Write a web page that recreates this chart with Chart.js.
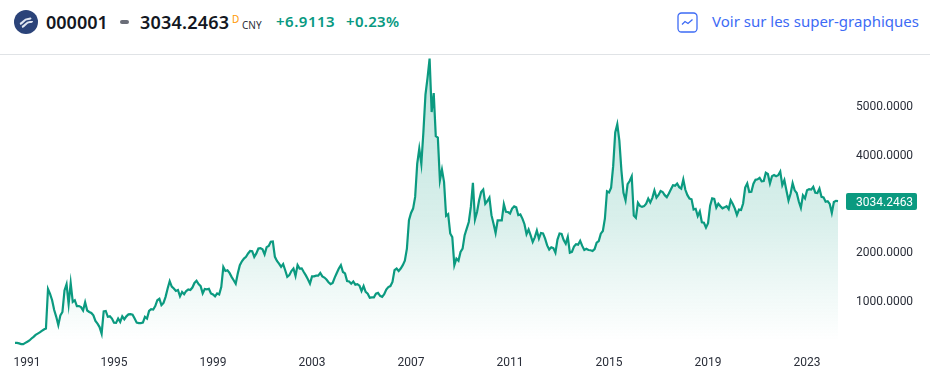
<!DOCTYPE html>
<html lang="fr">
<head>
<meta charset="utf-8">
<title>000001</title>
<script src="https://cdn.jsdelivr.net/npm/chart.js@4"></script>
<style>
    html, body { margin: 0; padding: 0; background: #fff; }
    body { width: 930px; height: 380px; position: relative; overflow: hidden; font-family: "Noto Sans", sans-serif; }
    .hd { position: absolute; white-space: nowrap; line-height: 1; }
    #rule { position: absolute; left: 0; top: 54px; width: 930px; height: 1px; background: #e0e3e6; }
    #wrap { position: absolute; left: 0; top: 55px; width: 930px; height: 325px; }
</style>
</head>
<body>
<svg class="hd" style="left:14px;top:10px" width="24" height="24" viewBox="0 0 24 24">
    <circle cx="12" cy="12" r="12" fill="#2b4379"/>
    <path d="M6 14c3-1 4-5 8-5 1 0 2 0 3-1M8 17c3-1 4-5 8-5 1 0 2 0 2-1" stroke="#dfe5f1" stroke-width="2" fill="none"/>
</svg>
<span class="hd" style="left:46px;top:13px;font-size:18px;font-weight:600;color:#131722">000001</span>
<span class="hd" style="left:120px;top:20px;width:9px;height:4px;background:#6a6d78;border-radius:2px"></span>
<span class="hd" style="left:140px;top:13px;font-size:18px;font-weight:600;letter-spacing:.2px;color:#131722">3034.2463</span>
<span class="hd" style="left:232px;top:14px;font-size:10px;color:#ff9800">D</span>
<span class="hd" style="left:242px;top:20px;font-size:10px;color:#2a2e39">CNY</span>
<span class="hd" style="left:276px;top:14px;font-size:15px;font-weight:600;letter-spacing:.5px;color:#089981">+6.9113</span>
<span class="hd" style="left:346px;top:14px;font-size:15px;font-weight:600;letter-spacing:.3px;color:#089981">+0.23%</span>
<svg class="hd" style="left:677px;top:12px" width="21" height="21" viewBox="0 0 21 21">
    <rect x="1" y="1" width="19" height="19" rx="3.5" fill="none" stroke="#3d6bf5" stroke-width="1.3"/>
    <path d="M5 12.5l3-3 3 2 4.5-4" fill="none" stroke="#3d6bf5" stroke-width="1.3"/>
</svg>
<span class="hd" style="left:712px;top:14px;font-size:15px;color:#3d6bf5">Voir sur les super-graphiques</span>
<div id="rule"></div>
<div id="wrap"><canvas id="priceChart" width="930" height="325"></canvas></div>

<script>
// clotures mensuelles, une ligne par annee (1991 -> avril 2024)
const closes = [
    125, 125, 115, 100, 100, 125, 150, 175, 215, 250, 290, 316,
    340, 370, 400, 420, 1230, 1130, 1000, 800, 660, 490, 690, 760,
    1200, 1330, 920, 1350, 965, 1000, 880, 880, 860, 790, 960, 790,
    760, 740, 690, 575, 520, 450, 315, 770, 780, 660, 670, 625,
    540, 535, 625, 555, 670, 610, 670, 710, 715, 705, 625, 540,
    530, 530, 540, 660, 625, 780, 815, 810, 880, 1000, 1030, 900,
    945, 1070, 1240, 1390, 1280, 1240, 1190, 1210, 1080, 1170, 1125, 1190,
    1220, 1210, 1260, 1355, 1400, 1330, 1290, 1140, 1230, 1225, 1235, 1140,
    1120, 1080, 1140, 1120, 1270, 1680, 1600, 1615, 1560, 1480, 1410, 1340,
    1550, 1720, 1800, 1855, 1890, 1960, 2010, 2005, 1890, 1960, 2060, 2070,
    2045, 1940, 2090, 2115, 2200, 2205, 1890, 1805, 1750, 1685, 1740, 1615,
    1480, 1515, 1600, 1650, 1500, 1720, 1650, 1655, 1580, 1510, 1430, 1340,
    1490, 1490, 1505, 1505, 1560, 1490, 1465, 1425, 1370, 1330, 1355, 1465,
    1560, 1650, 1720, 1580, 1550, 1395, 1385, 1340, 1385, 1320, 1330, 1300,
    1190, 1290, 1170, 1135, 1050, 1060, 1060, 1135, 1150, 1090, 1070, 1125,
    1220, 1270, 1290, 1375, 1620, 1650, 1600, 1650, 1720, 1810, 2060, 2640,
    2790, 2880, 3120, 3800, 4110, 3800, 4450, 5220, 5560, 5955, 4860, 5250,
    4365, 4335, 3460, 3680, 3430, 2730, 2765, 2370, 2295, 1720, 1855, 1810,
    1990, 2060, 2335, 2470, 2605, 2915, 3410, 2655, 2810, 3050, 3220, 3270,
    2980, 3035, 3105, 2745, 2570, 2380, 2640, 2640, 2640, 2970, 2815, 2810,
    2780, 2880, 2925, 2905, 2745, 2760, 2675, 2560, 2355, 2450, 2330, 2195,
    2290, 2430, 2265, 2380, 2370, 2265, 2125, 2040, 2085, 2070, 1975, 2245,
    2370, 2360, 2235, 2160, 2300, 1975, 1990, 2100, 2150, 2140, 2220, 2115,
    2030, 2055, 2030, 2025, 2010, 2050, 2180, 2215, 2365, 2420, 2680, 3235,
    3210, 3310, 3750, 4440, 4610, 4275, 3660, 3205, 3050, 3380, 3445, 3540,
    2735, 2690, 3000, 2935, 2915, 2930, 2980, 3085, 3005, 3100, 3250, 3105,
    3160, 3240, 3220, 3155, 3115, 3190, 3275, 3360, 3350, 3395, 3320, 3290,
    3475, 3265, 3155, 3085, 3070, 2860, 2875, 2725, 2820, 2600, 2590, 2490,
    2580, 2940, 3090, 3080, 2900, 2980, 2930, 2885, 2905, 2930, 2870, 3050,
    2975, 2880, 2750, 2860, 2850, 2985, 3310, 3395, 3220, 3225, 3390, 3470,
    3480, 3510, 3440, 3445, 3615, 3590, 3395, 3545, 3570, 3545, 3565, 3640,
    3360, 3465, 3250, 3045, 3185, 3400, 3255, 3200, 3025, 2895, 3150, 3090,
    3255, 3280, 3270, 3325, 3205, 3200, 3290, 3120, 3110, 3020, 3030, 2975,
    2790, 3015, 3040, 3034.2463
];
const yearTicks = ['1991', '1995', '1999', '2003', '2007', '2011', '2015', '2019', '2023'];
const priceTicks = [1000, 2000, 3000, 4000, 5000];
const lastPrice = '3034.2463';

const LINE_COLOR = '#0b9a80';
const AXIS_FONT = { family: 'Roboto', size: 12 };

const months = closes.map((_, i) => `${1991 + Math.floor(i / 12)}-${String(i % 12 + 1).padStart(2, '0')}`);

// etiquette du dernier cours sur l'axe de droite
const lastPriceTag = {
    id: 'lastPriceTag',
    afterDraw(chart) {
        const ctx = chart.ctx;
        const y = chart.scales.y.getPixelForValue(closes[closes.length - 1]) + 0.5;
        ctx.save();
        ctx.fillStyle = '#0b9a80';
        ctx.beginPath();
        ctx.roundRect(846, y - 8.5, 71, 17, 2);
        ctx.fill();
        ctx.fillStyle = '#fff';
        ctx.font = '12px Roboto';
        ctx.textAlign = 'left';
        ctx.textBaseline = 'middle';
        ctx.fillText(lastPrice, 856, y + 1);
        ctx.restore();
    }
};

new Chart(document.getElementById('priceChart'), {
    type: 'line',
    data: {
        labels: months,
        datasets: [{
            data: closes,
            borderColor: LINE_COLOR,
            borderWidth: 2.2,
            pointRadius: 0,
            tension: 0,
            fill: 'start',
            backgroundColor(context) {
                const area = context.chart.chartArea;
                if (!area) return 'transparent';
                const g = context.chart.ctx.createLinearGradient(0, area.top, 0, area.bottom);
                g.addColorStop(0, 'rgba(11, 154, 128, 0.27)');
                g.addColorStop(0.56, 'rgba(11, 154, 128, 0.155)');
                g.addColorStop(0.97, 'rgba(11, 154, 128, 0)');
                return g;
            }
        }]
    },
    plugins: [lastPriceTag],
    options: {
        responsive: false,
        animation: false,
        layout: { padding: { left: 15, top: 0, right: 0, bottom: 0 } },
        plugins: { legend: { display: false }, tooltip: { enabled: false } },
        scales: {
            x: {
                grid: { display: false, drawTicks: false },
                border: { display: false },
                afterFit(scale) {
                    scale.height = 31;
                    scale.paddingLeft = 0;
                    scale.paddingRight = 0;
                },
                ticks: {
                    autoSkip: false,
                    maxRotation: 0,
                    font: AXIS_FONT,
                    color: '#2a2e39',
                    padding: 7,
                    callback(value, index) {
                        if (index % 48 !== 0) return null;
                        const year = yearTicks[index / 48];
                        // le premier libelle reste dans le cadre, decale par des espaces
                        return index === 0 ? '        ' + year : year;
                    }
                }
            },
            y: {
                position: 'right',
                min: 0,
                max: 6030,
                grid: { display: false, drawTicks: false },
                border: { display: false },
                afterFit(scale) {
                    scale.width = 92;
                    scale.paddingTop = 0;
                    scale.paddingBottom = 0;
                },
                afterBuildTicks(scale) { scale.ticks = priceTicks.map(v => ({ value: v })); },
                ticks: {
                    font: AXIS_FONT,
                    color: '#2a2e39',
                    padding: 18,
                    labelOffset: 2,
                    callback: v => v.toFixed(4)
                }
            }
        }
    }
});
</script>
</body>
</html>
